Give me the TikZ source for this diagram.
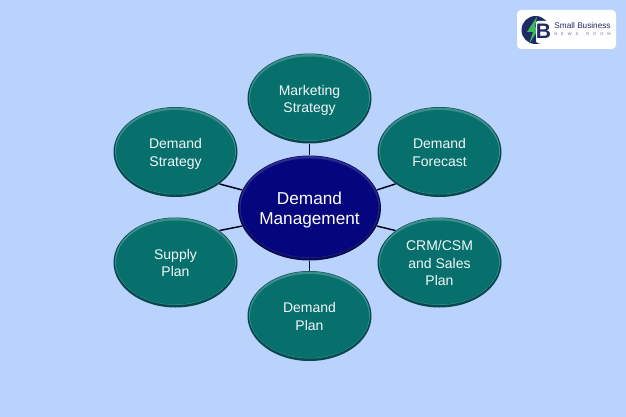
\documentclass[tikz,border=0pt]{standalone}
\usepackage{fontspec}
\setmainfont{Liberation Sans}
\newfontfamily\spaced[LetterSpace=100]{Liberation Sans}
\usetikzlibrary{shapes.geometric}
\definecolor{bgc}{HTML}{BAD3FD}
\definecolor{tealc}{HTML}{07706C}
\definecolor{tealb}{HTML}{0A4850}
\definecolor{teall}{HTML}{3A8F8C}
\definecolor{navyc}{HTML}{05057E}
\definecolor{navyb}{HTML}{0A0A50}
\definecolor{navyl}{HTML}{2A2A90}
\definecolor{logoc}{HTML}{1E2A66}
\definecolor{boltc}{HTML}{3DBB5B}
\newcommand{\lowered}[2]{\raisebox{0pt}[\dimexpr\height+#1\relax]{\begin{tabular}{@{}c@{}}#2\end{tabular}}}
\tikzset{x=1pt,y=-1pt,
 petal/.style={ellipse,draw=none,fill=tealb,minimum width=124pt,minimum height=90pt,inner sep=0pt,text=white!95!teal,font=\fontsize{14}{17.6}\selectfont,
  path picture={
   \fill[teall] ([yshift=1pt]path picture bounding box.center) ellipse [x radius=60.5pt,y radius=43.5pt];
   \fill[tealc] ([yshift=0pt]path picture bounding box.center) ellipse [x radius=59.5pt,y radius=42pt];}},
 hub/.style={ellipse,draw=none,fill=navyb,minimum width=143pt,minimum height=105pt,inner sep=0pt,text=white,font=\fontsize{17.2}{20.5}\selectfont,
  path picture={
   \fill[navyl] ([yshift=1pt]path picture bounding box.center) ellipse [x radius=70pt,y radius=51pt];
   \fill[navyc] ([yshift=0pt]path picture bounding box.center) ellipse [x radius=69pt,y radius=49.5pt];}},
 link/.style={draw=black!60!navyb,line width=1.5pt},
 logocard/.style={rounded corners=4pt,fill=white,draw=none}}
\begin{document}
\begin{tikzpicture}
\useasboundingbox (0,0) rectangle (626,417);
\fill[bgc] (0,0) rectangle (626,417);
\node[petal] (mk) at (309.5,98.5) {\lowered{4pt}{Marketing\\Strategy}};
\node[petal] (df) at (439.5,152) {\lowered{4pt}{Demand\\Forecast}};
\node[petal] (crm) at (439.5,262.5) {\lowered{4pt}{CRM/CSM\\and Sales\\Plan}};
\node[petal] (dp) at (309.5,316) {\lowered{4pt}{Demand\\Plan}};
\node[petal] (sp) at (175.5,262.5) {\lowered{4pt}{Supply\\Plan}};
\node[petal] (ds) at (175.5,152) {\lowered{4pt}{Demand\\Strategy}};
\node[hub] (hub) at (309.5,208) {\lowered{5pt}{Demand\\Management}};
\draw[link] (hub.90) -- (mk.-90);
\draw[link] (hub.-90) -- (dp.90);
\draw[link] (hub.165) -- (ds.-36);
\draw[link] (hub.15) -- (df.-144);
\draw[link] (hub.-165) -- (sp.36);
\draw[link] (hub.-15) -- (crm.144);
% logo
\node[logocard,minimum width=99pt,minimum height=39pt,inner sep=0pt] (card) at (566.5,29.5) {};
\fill[logoc] (535.5,30) circle (14pt);
\fill[boltc] (537,16.5) -- (527,32) -- (533,32) -- (529,44) -- (540,27) -- (535,27) -- cycle;
\fill[white,rounded corners=2pt] (536,21) rectangle (550,43);
\node[font=\bfseries\fontsize{21}{21}\selectfont,text=logoc,inner sep=0pt] (b) at (543.5,31.5) {B};
\node[font=\fontsize{8.2}{9}\selectfont,text=logoc,inner sep=0pt] (sb) at (582.5,26) {Small Business};
\node[font=\spaced\fontsize{4}{5}\selectfont,text=logoc!70,inner sep=0pt] (nr) at (582.5,34) {NEWS\hspace{8pt}ROOM};
\end{tikzpicture}
\end{document}
